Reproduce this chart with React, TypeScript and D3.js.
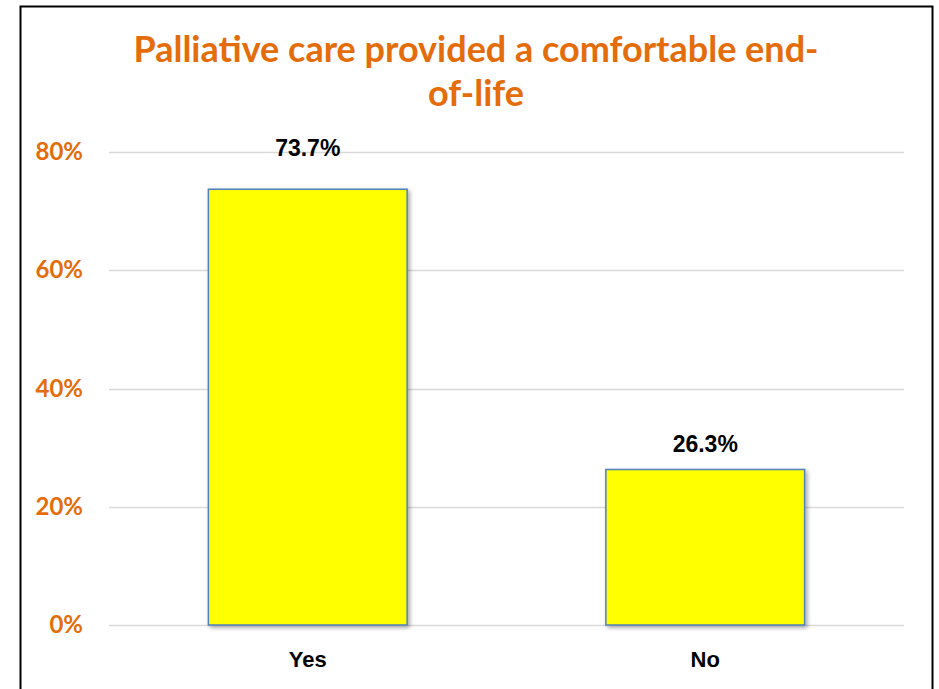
import React from "react";
import * as d3 from "d3";

const categories = ["Yes", "No"];
const values = [73.7, 26.3];
const valueLabels = ["73.7%", "26.3%"];
const yTicks = [0, 20, 40, 60, 80];
const titleLines = ["Palliative care provided a comfortable end-", "of-life"];

const W = 939;
const H = 689;
const plot = { left: 109, right: 904, top: 152, bottom: 625 };
const orange = "#E46C0A";

export default function App() {
  const x = d3
    .scaleBand<string>()
    .domain(categories)
    .range([plot.left, plot.right])
    .paddingInner(0.5)
    .paddingOuter(0.25);
  const y = d3.scaleLinear().domain([0, 80]).range([plot.bottom, plot.top]);

  return (
    <svg
      width={W}
      height={H}
      style={{ position: "absolute", left: 0, top: 0, background: "#fff" }}
    >
      <defs>
        <filter id="shadow" x="-10%" y="-10%" width="130%" height="130%">
          <feDropShadow dx="2" dy="2" stdDeviation="2" floodColor="#000" floodOpacity="0.35" />
        </filter>
      </defs>
      <rect x={0} y={0} width={W} height={H} fill="#fff" />
      <rect x={20.5} y={6.5} width={912} height={700} fill="none" stroke="#000" strokeWidth={2} />
      {titleLines.map((t, i) => (
        <text
          key={i}
          x={476}
          y={62 + i * 44}
          textAnchor="middle"
          fontFamily="Lato, 'Open Sans', sans-serif"
          fontWeight="bold"
          fontSize={36}
          fill={orange}
        >
          {t}
        </text>
      ))}
      {yTicks.map((t) => (
        <g key={t}>
          <line
            x1={plot.left}
            x2={plot.right}
            y1={Math.round(y(t)) + 0.5}
            y2={Math.round(y(t)) + 0.5}
            stroke="#d9d9d9"
            strokeWidth={1.5}
          />
          <text
            x={83}
            y={y(t) + 8}
            textAnchor="end"
            fontFamily="Lato, 'Open Sans', sans-serif"
            fontWeight="bold"
            fontSize={24}
            fill={orange}
          >
            {t}%
          </text>
        </g>
      ))}
      {categories.map((c, i) => {
        const bx = x(c)!;
        const bw = x.bandwidth();
        const by = y(values[i]);
        const labelY = values[i] > 60 ? plot.top + 4 : by - 18;
        return (
          <g key={c}>
            <rect
              x={bx}
              y={by}
              width={bw}
              height={plot.bottom - by}
              fill="#FFFF00"
              stroke="#4F81BD"
              strokeWidth={1.5}
              filter="url(#shadow)"
            />
            <text
              x={bx + bw / 2}
              y={labelY}
              textAnchor="middle"
              fontFamily="'Liberation Sans', Arial, sans-serif"
              fontWeight="bold"
              fontSize={23}
              fill="#000"
            >
              {valueLabels[i]}
            </text>
            <text
              x={bx + bw / 2}
              y={667}
              textAnchor="middle"
              fontFamily="'Liberation Sans', Arial, sans-serif"
              fontWeight="bold"
              fontSize={22}
              fill="#000"
            >
              {c}
            </text>
          </g>
        );
      })}
    </svg>
  );
}
